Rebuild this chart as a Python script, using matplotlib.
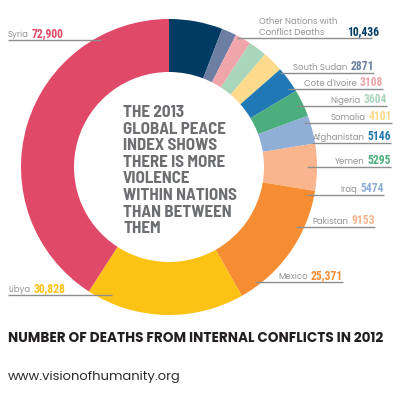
import numpy as np
import matplotlib.pyplot as plt
import matplotlib.font_manager as fm

# deaths from internal conflicts, 2012 (clockwise from 12 o'clock)
countries = ['Other Nations with\nConflict Deaths', 'South Sudan', "Cote d'Ivoire", 'Nigeria',
             'Somalia', 'Afghanistan', 'Yemen', 'Iraq', 'Pakistan', 'Mexico', 'Libya', 'Syria']
deaths = [10436, 2871, 3108, 3604, 4101, 5146, 5295, 5474, 9153, 25371, 30828, 72900]
colors = ['#003b64', '#6c7fa3', '#f0a5aa', '#a9d6bb', '#fdda8c', '#2079b4',
          '#4bae7c', '#8fafd6', '#fbb58e', '#f68d33', '#fdc314', '#e04a68']

# label layout: (line x0, line x1, line y, side)
label_pos = [(237, 372, 38, 'r'), (280, 374, 73, 'r'), (288, 383, 89, 'r'), (297, 387, 106, 'r'),
             (304, 392, 123, 'r'), (312, 391, 143, 'r'), (307, 391, 167, 'r'), (307, 384, 195, 'r'),
             (296, 375, 227, 'r'), (255, 343, 282, 'r'), (8, 112, 295, 'l'), (8, 101, 40, 'l')]

center_lines = ['THE 2013', 'GLOBAL PEACE', 'INDEX SHOWS', 'THERE IS MORE', 'VIOLENCE',
                'WITHIN NATIONS', 'THAN BETWEEN', 'THEM']
title = 'NUMBER OF DEATHS FROM INTERNAL CONFLICTS IN 2012'
url = 'www.visionofhumanity.org'


def as_int(w):
    if isinstance(w, str):
        return fm.weight_dict.get(w, 400)
    return int(w)


def find_font(families, weight):
    # first family that has a static file near the wanted weight
    for fam in families:
        cands = [f for f in fm.fontManager.ttflist
                 if f.name == fam and f.style == 'normal' and abs(as_int(f.weight) - weight) <= 50]
        if cands:
            return min(cands, key=lambda f: abs(as_int(f.weight) - weight)).fname
    return None


def fprop(families, weight, size):
    path = find_font(families, weight)
    if path is None:
        return fm.FontProperties(family='DejaVu Sans', weight=weight, size=size)
    return fm.FontProperties(fname=path, size=size)


cond_fams = ['Barlow Semi Condensed', 'Fira Sans Condensed', 'Roboto Condensed']
geo_fams = ['Poppins', 'Montserrat', 'Lato', 'Open Sans']

val_fp = fprop(['Roboto Condensed'], 700, 8.4)
name_fp = fprop(geo_fams, 400, 6.6)
center_fp = fprop(cond_fams, 700, 12.5)
title_fp = fprop(geo_fams, 700, 7.4)
url_fp = fprop(geo_fams, 400, 8.2)

W = 403
fig = plt.figure(figsize=(4.03, 4.03), dpi=100)
ax = fig.add_axes([0, 0, 1, 1])

cx, cy, r_out, r_in = 169, 167, 148, 95
ax.pie(deaths, colors=colors, startangle=-90, counterclock=True, radius=r_out, center=(cx, cy),
       wedgeprops=dict(width=r_out - r_in, linewidth=0), frame=True)
ax.set_xlim(0, W)
ax.set_ylim(W, 0)
ax.set_aspect('equal')
ax.axis('off')

name_color = '#939598'
line_color = '#8c8e90'

fig.canvas.draw()
renderer = fig.canvas.get_renderer()
inv = ax.transData.inverted()


def text_width(t):
    bb = t.get_window_extent(renderer)
    p0 = inv.transform((bb.x0, bb.y0))
    p1 = inv.transform((bb.x1, bb.y0))
    return p1[0] - p0[0]


def fit_size(s, fp, target, lo, hi):
    # font size that makes the string about `target` pixels wide
    probe = fp.copy()
    probe.set_size(10)
    t = ax.text(0, 0, s, fontproperties=probe)
    w = text_width(t)
    t.remove()
    return float(np.clip(10 * target / w, lo, hi))


center_fp.set_size(fit_size('WITHIN NATIONS', center_fp, 114, 11, 14))
title_fp.set_size(fit_size(title, title_fp, 375, 6.5, 11))
url_fp.set_size(fit_size(url, url_fp, 174, 7, 10))
name_fp.set_size(fit_size('South Sudan', name_fp, 55, 5.5, 8))

for name, val, col, (x0, x1, ly, side) in zip(countries, deaths, colors, label_pos):
    ax.plot([x0, x1], [ly, ly], color=line_color, lw=1.0, solid_capstyle='butt')
    val_str = '{:,}'.format(val) if val >= 10000 else str(val)
    by = ly - 3
    if name.startswith('Other'):
        ax.text(259, by, name, ha='left', va='baseline', color=name_color,
                linespacing=1.35, fontproperties=name_fp)
        ax.text(379, by, val_str, ha='right', va='baseline', color=col, fontproperties=val_fp)
    elif side == 'r':
        tv = ax.text(x1, by, val_str, ha='right', va='baseline', color=col, fontproperties=val_fp)
        w = text_width(tv)
        ax.text(x1 - w - 3, by, name, ha='right', va='baseline', color=name_color,
                fontproperties=name_fp)
    else:
        tn = ax.text(x0, by, name, ha='left', va='baseline', color=name_color,
                     fontproperties=name_fp)
        w = text_width(tn)
        ax.text(x0 + w + 3, by, val_str, ha='left', va='baseline', color=col,
                fontproperties=val_fp)

# center statement, one line every 16.6 px
for i, line in enumerate(center_lines):
    ax.text(123, 117 + 16.6 * i, line, ha='left', va='baseline', color='#6d6e71',
            fontproperties=center_fp)

ax.text(8, 342, title, ha='left', va='baseline', color='#231f20', fontproperties=title_fp)
ax.text(8, 380, url, ha='left', va='baseline', color='#2b2b2b', fontproperties=url_fp)

fig.savefig('out.png', dpi=100, facecolor='white')
